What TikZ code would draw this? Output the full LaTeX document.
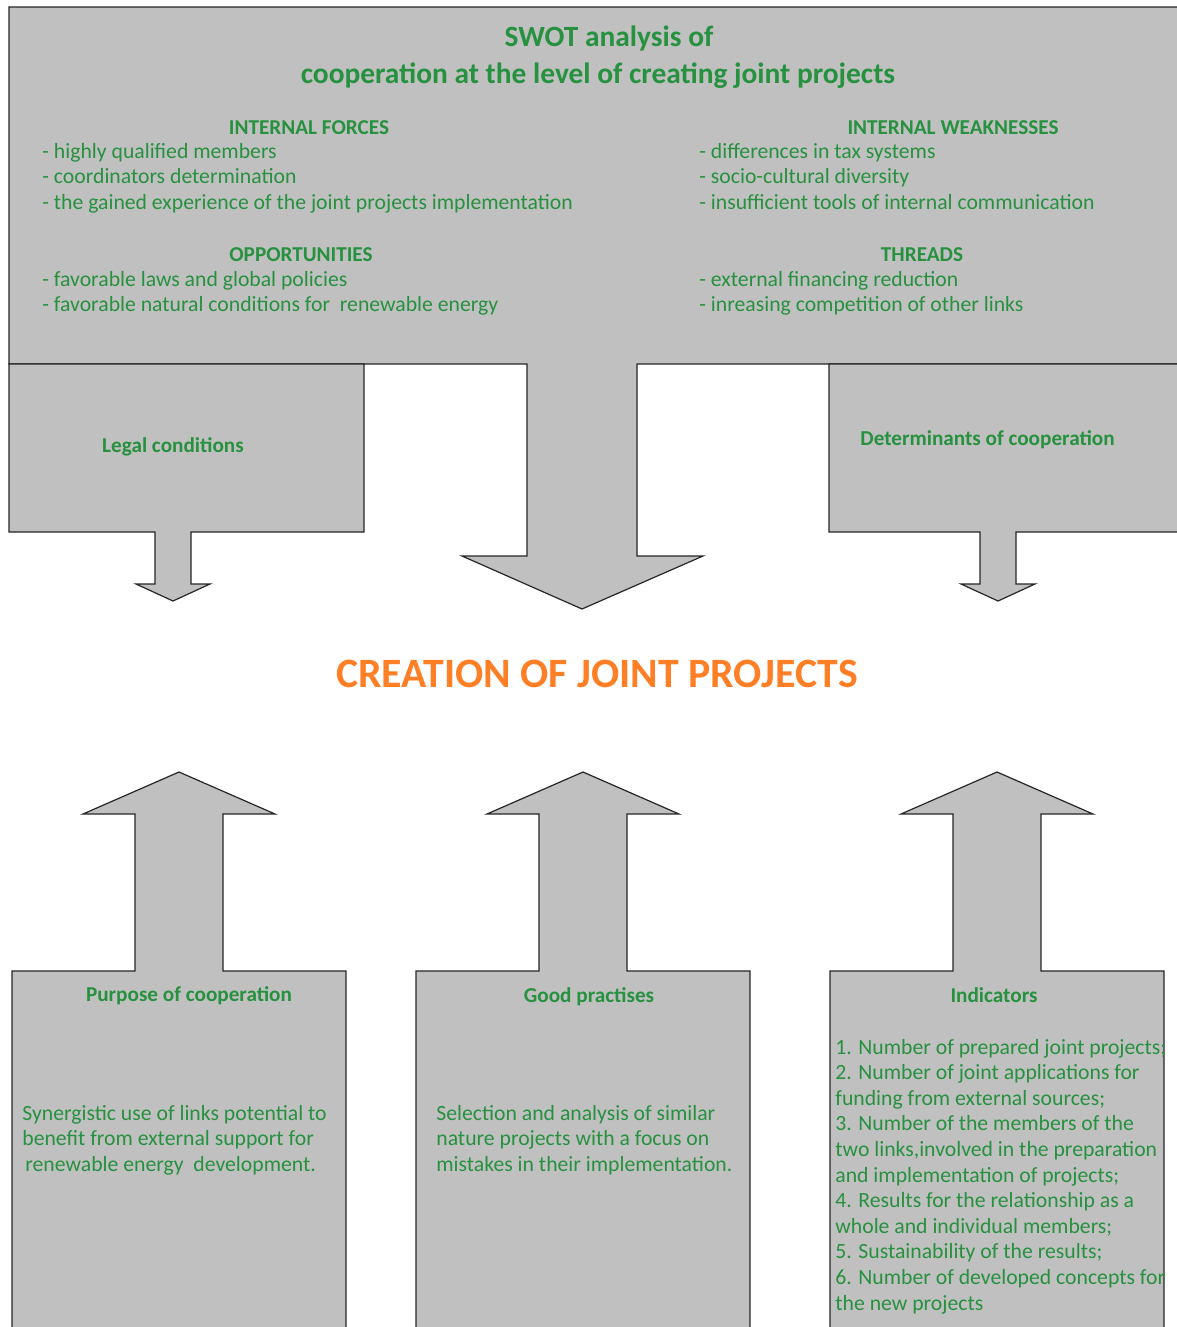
\documentclass[tikz,border=0pt]{standalone}
\usepackage{fontspec}
\setmainfont{Carlito}
\usepackage{tikz}

\definecolor{swotgreen}{RGB}{38,145,62}
\definecolor{panelgray}{RGB}{192,192,192}
\definecolor{jointorange}{RGB}{255,127,39}

\tikzset{
  panel/.style={fill=panelgray, draw=black!85, line width=0.6pt, line join=miter},
  txt/.style={text=swotgreen, font=\fontsize{10.85}{12.75}\selectfont, inner sep=0pt, anchor=base west},
  headtxt/.style={txt, font=\fontsize{10.6}{12.75}\selectfont\bfseries, anchor=base},
  titletxt/.style={txt, font=\fontsize{14.7}{16}\selectfont\bfseries, anchor=base}
}

\begin{document}
\begin{tikzpicture}[x=0.5pt, y=-0.5pt]
    \useasboundingbox (0,0) rectangle (1177,1327);
    \clip (0,0) rectangle (1177,1327);

    % SWOT panel with the big arrow
    \draw[panel] (9,7) -- (1200,7) -- (1200,364) -- (637,364) -- (637,556) -- (703,556)
        -- (582,609) -- (462,556) -- (527,556) -- (527,364) -- (9,364) -- cycle;

    % side panels with small arrows
    \foreach \l/\r/\c in {9/364/173, 829/1200/998} {
        \draw[panel] (\l,364) -- (\r,364) -- (\r,532) -- (\c+18,532) -- (\c+18,584) -- (\c+37,584)
            -- (\c,601) -- (\c-37,584) -- (\c-18,584) -- (\c-18,532) -- (\l,532) -- cycle;
    }

    % lower panels with up arrows
    \foreach \l in {12,416,830} {
        \draw[panel] (\l,1340) -- (\l,971) -- (\l+123,971) -- (\l+123,814) -- (\l+71,814)
            -- (\l+167,772) -- (\l+263,814) -- (\l+211,814) -- (\l+211,971) -- (\l+334,971)
            -- (\l+334,1340);
    }

    % titles
    \node[titletxt] (swot1) at (609,47) {SWOT analysis of};
    \node[titletxt] (swot2) at (598,84) {cooperation at the level of creating joint projects};

    \node[headtxt] (forces) at (309,134) {INTERNAL FORCES};
    \node[headtxt] (weak) at (953,134) {INTERNAL WEAKNESSES};
    \node[headtxt] (opport) at (301,261) {OPPORTUNITIES};
    \node[headtxt] (threads) at (922,261) {THREADS};

    \foreach \t [count=\i] in {- highly qualified members, - coordinators determination,
        - the gained experience of the joint projects implementation} {
        \node[txt] (force\i) at (42,132.5+25.5*\i) {\t};
    }
    \foreach \t [count=\i] in {- differences in tax systems, - socio-cultural diversity,
        - insufficient tools of internal communication} {
        \node[txt] (weak\i) at (699,132.5+25.5*\i) {\t};
    }
    \foreach \t [count=\i] in {- favorable laws and global policies,
        - favorable natural conditions for\ \ renewable energy} {
        \node[txt] (opp\i) at (42,260.5+25.5*\i) {\t};
    }
    \foreach \t [count=\i] in {- external financing reduction, - inreasing competition of other links} {
        \node[txt] (thr\i) at (699,260.5+25.5*\i) {\t};
    }

    \node[headtxt] (legal) at (173,452) {Legal conditions};
    \node[headtxt, anchor=base west] (determ) at (860,445) {Determinants of cooperation};

    \node[titletxt, text=jointorange, font=\fontsize{20.9}{24}\selectfont\bfseries] (creation)
        at (597,687) {CREATION OF JOINT PROJECTS};

    % lower panels
    \node[headtxt] (purpose) at (189,1001) {Purpose of cooperation};
    \node[headtxt] (good) at (589,1002) {Good practises};
    \node[headtxt] (indic) at (994,1002) {Indicators};

    \foreach \t/\x [count=\i] in {Synergistic use of links potential to/22,
        benefit from external support for/22, renewable energy\ \ development./25} {
        \node[txt] (purp\i) at (\x,1094.5+25.5*\i) {\t};
    }
    \foreach \t [count=\i] in {Selection and analysis of similar, nature projects with a focus on,
        mistakes in their implementation.} {
        \node[txt] (good\i) at (436,1094.5+25.5*\i) {\t};
    }
    \foreach \t [count=\i] in {1. Number of prepared joint projects;, 2. Number of joint applications for,
        funding from external sources;, 3. Number of the members of the,
        {two links,involved in the preparation}, and implementation of projects;,
        4. Results for the relationship as a, whole and individual members;,
        5. Sustainability of the results;, 6. Number of developed concepts for,
        the new projects} {
        \node[txt] (ind\i) at (835,1028.4+25.6*\i) {\t};
    }
\end{tikzpicture}
\end{document}
